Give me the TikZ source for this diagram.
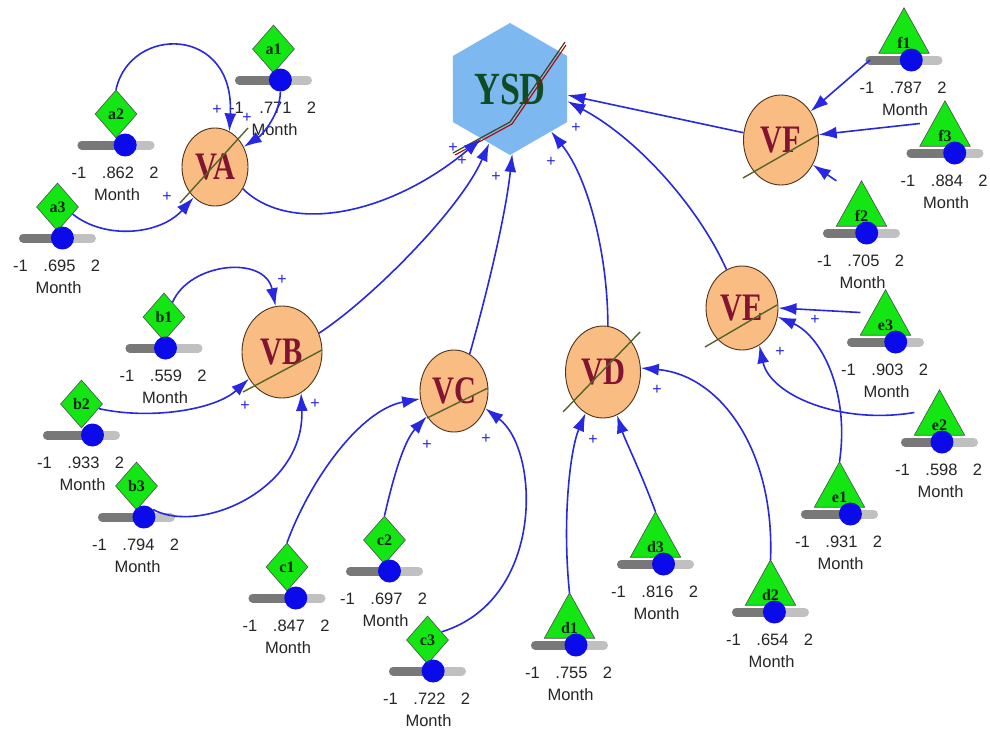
\documentclass[tikz,border=0pt]{standalone}
\usepackage{fontspec}
\usepackage{graphicx}
\setmainfont{Liberation Serif}
\newfontfamily\arialf{Liberation Sans}
\usetikzlibrary{shapes.geometric,arrows.meta,calc}
\definecolor{cblue}{RGB}{40,40,225}
\definecolor{knobblue}{RGB}{10,10,235}
\definecolor{vgreen}{RGB}{20,230,20}
\definecolor{peach}{RGB}{249,188,130}
\definecolor{vbrown}{RGB}{80,50,25}
\definecolor{vred}{RGB}{130,20,50}
\definecolor{ysdblue}{RGB}{125,185,240}
\definecolor{ysdgreen}{RGB}{15,75,35}
\definecolor{oliveline}{RGB}{85,100,40}
\definecolor{bardk}{RGB}{120,120,120}
\definecolor{barlt}{RGB}{192,192,192}
\newcommand\vlab[1]{\scalebox{0.92}[1.18]{#1}}
\newcommand\sbar[4]{%
  \pgfmathsetmacro\kx{#2-38+76*1.#4/3}%
  \coordinate (#1l) at (#2-34,#3);
  \coordinate (#1r) at (#2+34,#3);
  \coordinate (#1v) at (\kx,#3);
  \draw[barstyle, barlt] (#1l) -- (#1r);
  \draw[barstyle, bardk] (#1l) -- (#1v);
  \node[knob] (#1k) at (#1v) {};
  \node[num] (#1n) at (#2-37,#3+28) {-1};
  \node[num] (#1x) at (#2+2,#3+28) {.#4};
  \node[num] (#1z) at (#2+38,#3+28) {2};
  \node[num] (#1o) at (#2+1,#3+50) {Month};
}
\newcommand\dinput[4]{%
  \node[dia] (#1) at (#2,#3-31) {#1};
  \sbar{#1}{#2}{#3}{#4}}
\newcommand\tinput[4]{%
  \node[tribox] (#1) at (#2,#3-29.5) {};
  \filldraw[trifill] (#1.south west) -- (#1.north) -- (#1.south east) -- cycle;
  \node[tlab] (#1t) at (#2,#3-17) {#1};
  \sbar{#1}{#2}{#3}{#4}}
\tikzset{
  conn/.style={draw=cblue, line width=1.6pt, -{Latex[length=18pt,width=12pt]}},
  dia/.style={diamond, draw=black!70, line width=0.6pt, fill=vgreen, minimum width=42pt, minimum height=48pt, inner sep=0pt, font=\bfseries\fontsize{16}{16}\selectfont, text=ysdgreen!50!black},
  tribox/.style={minimum width=50pt, minimum height=45pt, inner sep=0pt},
  trifill/.style={draw=black!70, line width=0.6pt, fill=vgreen},
  tlab/.style={font=\bfseries\fontsize{16}{16}\selectfont, text=ysdgreen!50!black, inner sep=0pt},
  barstyle/.style={line width=9pt, line cap=round},
  knob/.style={circle, fill=knobblue, minimum size=23pt, inner sep=0pt},
  num/.style={font=\arialf\fontsize{16.5}{16.5}\selectfont, text=black!85, inner sep=0pt},
  plus/.style={font=\arialf\fontsize{16}{16}\selectfont, text=cblue, inner sep=0pt},
  var/.style={ellipse, draw=vbrown, fill=peach, line width=0.9pt, inner sep=0pt, font=\bfseries\fontsize{33}{33}\selectfont, text=vred},
  diag/.style={draw=oliveline, line width=1.4pt},
}
\begin{document}
\begin{tikzpicture}[x=1pt,y=-1pt]
\useasboundingbox[fill=white] (0,0) rectangle (990,731);
% target
\node[regular polygon, regular polygon sides=6, shape border rotate=30, minimum size=132pt, inner sep=0pt, fill=ysdblue,
      font=\bfseries\fontsize{39}{39}\selectfont, text=ysdgreen] (YSD) at (510,89) {\vlab{YSD}};
\draw[red!70!black, line width=1.1pt] (455,155) -- (512,124) -- (566,45);
\draw[oliveline!70!black, line width=1.2pt] (453,153) -- (510,122) -- (565,42);
% variables
\node[var, minimum width=66pt, minimum height=78pt] (VA) at (215,167) {\vlab{VA}};
\node[var, minimum width=80pt, minimum height=92pt] (VB) at (282,352) {\vlab{VB}};
\node[var, minimum width=68pt, minimum height=82pt] (VC) at (454,391) {\vlab{VC}};
\node[var, minimum width=75pt, minimum height=92pt] (VD) at (603,372) {\vlab{VD}};
\node[var, minimum width=72pt, minimum height=84pt] (VE) at (742,308) {\vlab{VE}};
\node[var, minimum width=75pt, minimum height=90pt] (VF) at (781,140) {\vlab{VF}};
\draw[diag] (180,203) -- (248,128);
\draw[diag] (243,392) -- (322,350);
\draw[diag] (427,418) -- (488,388);
\draw[diag] (563,412) -- (640,332);
\draw[diag] (705,347) -- (777,305);
\draw[diag] (743,178) -- (818,135);
% inputs
\dinput{a1}{273.5}{80}{771}
\dinput{a2}{116}{145}{862}
\dinput{a3}{57.5}{238}{695}
\dinput{b1}{164}{348}{559}
\dinput{b2}{81.5}{435}{933}
\dinput{b3}{136.5}{517}{794}
\dinput{c1}{287}{598}{847}
\dinput{c2}{384.5}{571}{697}
\dinput{c3}{427.5}{671}{722}
\tinput{d1}{569.5}{645}{755}
\tinput{d2}{770.5}{612}{654}
\tinput{d3}{655.5}{564}{816}
\tinput{e1}{839.5}{514}{931}
\tinput{e2}{939.5}{442}{598}
\tinput{e3}{885.5}{342}{903}
\tinput{f1}{904}{60}{787}
\tinput{f2}{861.5}{233}{705}
\tinput{f3}{945}{153}{884}
% connectors
\draw[conn] (a1k.south) .. controls (280,115) and (262,135) .. (VA.35);
\draw[conn] (a2.north) .. controls (130,25) and (235,25) .. (VA.68);
\draw[conn] (a3.-25) .. controls (105,240) and (160,235) .. (VA.235);
\draw[conn] (VA.-38) .. controls (290,235) and (390,215) .. (YSD.240);
\draw[conn] (b1.60) .. controls (190,262) and (265,255) .. (VB.98);
\draw[conn] (b2.-15) .. controls (150,420) and (215,410) .. (VB.219);
\draw[conn] (b3k.40) .. controls (200,535) and (305,490) .. (VB.-65);
\draw[conn] (VB.27) .. controls (370,300) and (460,210) .. (YSD.249);
\draw[conn] (c1.north) .. controls (310,480) and (360,410) .. (VC.193);
\draw[conn] (c2.north) .. controls (395,470) and (405,440) .. (VC.223);
\draw[conn] (c3.30) .. controls (545,600) and (540,450) .. (VC.-29);
\draw[conn] (VC.67) .. controls (485,300) and (505,220) .. (YSD.272);
\draw[conn] (d1.north) .. controls (562,520) and (570,450) .. (VD.247);
\draw[conn] (d3.north) .. controls (640,470) and (625,440) .. (VD.-72);
\draw[conn] (d2.north) .. controls (775,450) and (720,375) .. (VD.6);
\draw[conn] (VD.84) .. controls (608,260) and (590,180) .. (YSD.314);
\draw[conn] (e3.west) -- (VE.0);
\draw[conn] (e1.north) .. controls (850,390) and (820,335) .. (VE.-14);
\draw[conn] (e2.west) .. controls (840,425) and (770,395) .. (VE.-65);
\draw[conn] (VE.112) .. controls (700,210) and (640,140) .. (YSD.-12);
\draw[conn] (f1l) -- (VF.44);
\draw[conn] (f3.west) -- (VF.8);
\draw[conn] (f2.north west) -- (VF.-38);
\draw[conn] (VF.169) -- (YSD.-6);
% polarity signs
\node[plus] (p1) at (217,110) {+};
\node[plus] (p2) at (247,118) {+};
\node[plus] (p3) at (167,197) {+};
\node[plus] (p4) at (453,148) {+};
\node[plus] (p5) at (462,161) {+};
\node[plus] (p6) at (496,177) {+};
\node[plus] (p7) at (551,162) {+};
\node[plus] (p8) at (576,128) {+};
\node[plus] (p9) at (282,280) {+};
\node[plus] (p10) at (245,406) {+};
\node[plus] (p11) at (315,404) {+};
\node[plus] (p12) at (427,445) {+};
\node[plus] (p13) at (486,439) {+};
\node[plus] (p14) at (593,440) {+};
\node[plus] (p15) at (657,390) {+};
\node[plus] (p16) at (815,320) {+};
\node[plus] (p17) at (780,352) {+};
\end{tikzpicture}
\end{document}
